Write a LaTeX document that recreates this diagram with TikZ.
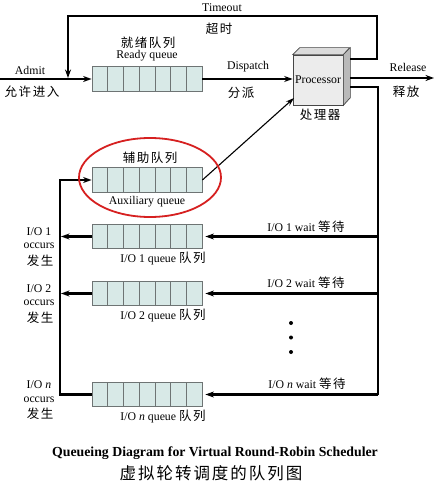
\documentclass[tikz,border=0pt]{standalone}
\usepackage{fontspec}
\setmainfont{Liberation Serif}
\newfontfamily\cjk[LetterSpace=12]{Noto Sans CJK SC}
\usetikzlibrary{arrows.meta,calc}
\newcommand\latf{\fontsize{11.8}{13}\selectfont}
\newcommand\zhf{\cjk\fontsize{12.5}{14}\selectfont}
\definecolor{qfill}{HTML}{D8E9E7}
\definecolor{qline}{HTML}{6E7474}
\definecolor{ovalred}{HTML}{D62020}
\begin{document}
\begin{tikzpicture}[x=1pt,y=-1pt,
  queue/.style={draw=qline, fill=qfill, minimum width=110pt, minimum height=24.5pt, inner sep=0pt, line width=0.8pt},
  cell/.style={draw=qline, line width=0.8pt},
  flow/.style={line width=2.2pt},
  arr/.style={flow,-{Stealth[length=8.5pt,width=6pt]}},
  thinarr/.style={line width=1.1pt,-{Stealth[length=8.5pt,width=5.5pt]}},
  lbl/.style={inner sep=0pt, font=\latf},
  zlbl/.style={inner sep=0pt, font=\zhf}]
\fill[white] (0,0) rectangle (435,494);
\useasboundingbox (0,0) rectangle (435,494);

% queues
\node[queue] (rq) at (147,79) {};
\node[queue] (aq) at (147,180) {};
\node[queue] (q1) at (147,236.5) {};
\node[queue] (q2) at (147,293.5) {};
\node[queue] (qn) at (147,394.5) {};
\foreach \q in {rq,aq,q1,q2,qn}
  \foreach \i in {1,...,6}
    \draw[cell] ($(\q.south west)!\i/7!(\q.south east)$) -- ($(\q.north west)!\i/7!(\q.north east)$);

% processor
\node[draw=gray!55!black, fill=gray!15, minimum width=50pt, minimum height=50pt, inner sep=0pt, font=\latf, line width=0.7pt] (proc) at (318,80) {Processor};
\filldraw[fill=gray!28, draw=gray!55!black, line width=0.7pt] (proc.north west) -- ++(7,-7) -- ++(50,0) -- (proc.north east) -- cycle;
\filldraw[fill=gray!55, draw=gray!55!black, line width=0.7pt] (proc.north east) -- ++(7,-7) -- ++(0,50) -- (proc.south east) -- cycle;

% coordinates
\coordinate (pt) at (350,59);
\coordinate (pr) at (350,78);
\coordinate (pb) at (350,87);
\coordinate (tj) at (68,78);
\coordinate (adm) at (0,79);
\coordinate (rel) at (434,78);
\coordinate (pin) at (294,98);
\coordinate (w1) at (378,236.5);
\coordinate (w2) at (378,293.5);
\coordinate (wn) at (378,394.5);
\coordinate (o1) at (61,236.5);
\coordinate (o2) at (61,293.5);

% connectors
\draw[arr] (adm) -- (rq.west);
\draw[arr] (pt) -- (377,59) -- (377,16) -- (68,16) -- (tj);
\draw[arr] (rq.east) -- (rq.east -| proc.west);
\draw[arr] (pr) -- (rel);
\draw[flow] (pb) -- (378,87) -- (wn);
\draw[arr, shorten >=3pt] (w1) -- (q1.east);
\draw[arr, shorten >=3pt] (w2) -- (q2.east);
\draw[arr, shorten >=3pt] (wn) -- (qn.east);
\draw[arr] (q1.west) -- (o1);
\draw[arr] (q2.west) -- (o2);
\draw[arr] (qn.west) -- (60,394.5) -- (60,180) -- (aq.west);
\draw[thinarr] (aq.east) -- (pin);

% red ellipse
\draw[ovalred, line width=1.8pt] (150,177.5) ellipse [x radius=71, y radius=39.5];

% dots
\fill (291,323) circle (2);
\fill (291,337.5) circle (2);
\fill (291,352) circle (2);

% labels
\node[lbl] (ltimeout) at (222,8) {Timeout};
\node[zlbl] (ztimeout) at (219,29) {超时};
\node[zlbl] (zready) at (148,43) {就绪队列};
\node[lbl] (lready) at (147,56) {Ready queue};
\node[lbl] (ladmit) at (30,70) {Admit};
\node[zlbl] (zadmit) at (32,92) {允许进入};
\node[lbl] (ldisp) at (248,67) {Dispatch};
\node[zlbl] (zdisp) at (241,93) {分派};
\node[lbl] (lrel) at (408,67) {Release};
\node[zlbl] (zrel) at (406,92) {释放};
\node[zlbl] (zproc) at (320,115) {处理器};
\node[zlbl] (zaux) at (150,158) {辅助队列};
\node[lbl] (laux) at (147,202) {Auxiliary queue};

\node[lbl] (lw1) at (306,227) {I/O 1 wait {\zhf 等待}};
\node[lbl] (lq1) at (163,259) {I/O 1 queue {\zhf 队列}};
\node[lbl] (lw2) at (306,283) {I/O 2 wait {\zhf 等待}};
\node[lbl] (lq2) at (163,316) {I/O 2 queue {\zhf 队列}};
\node[lbl] (lwn) at (307,384) {I/O \textit{n} wait {\zhf 等待}};
\node[lbl] (lqn) at (163,417) {I/O \textit{n} queue {\zhf 队列}};

\node[lbl] (lo1a) at (39,232) {I/O 1};
\node[lbl] (lo1b) at (39,246) {occurs};
\node[zlbl] (lo1c) at (40,261) {发生};
\node[lbl] (lo2a) at (39,289) {I/O 2};
\node[lbl] (lo2b) at (39,303) {occurs};
\node[zlbl] (lo2c) at (40,318) {发生};
\node[lbl] (lona) at (39,385) {I/O \textit{n}};
\node[lbl] (lonb) at (39,400) {occurs};
\node[zlbl] (lonc) at (40,414) {发生};

% titles
\node[inner sep=0pt, font=\bfseries\fontsize{13.8}{15}\selectfont] (t1) at (215,453) {Queueing Diagram for Virtual Round-Robin Scheduler};
\node[inner sep=0pt, font=\cjk\fontsize{16.5}{19}\selectfont] (t2) at (211,473) {虚拟轮转调度的队列图};
\end{tikzpicture}
\end{document}
